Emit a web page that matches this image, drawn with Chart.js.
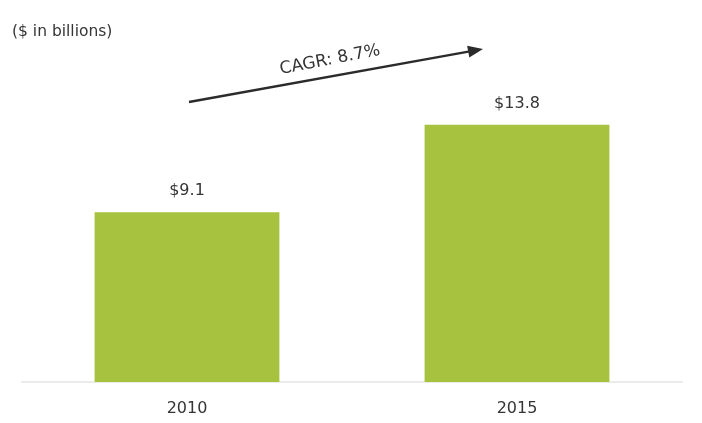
<!DOCTYPE html>
<html>
<head>
<meta charset="utf-8">
<script src="https://cdn.jsdelivr.net/npm/chart.js@4"></script>
<style>
html,body{margin:0;padding:0;background:#fff;}
#wrap{width:702px;height:423px;position:relative;}
</style>
</head>
<body>
<div id="wrap"><canvas id="c" width="702" height="423"></canvas></div>
<script>
const categories = ["2010", "2015"];
const values = [9.1, 13.8];
const valueLabels = ["$9.1", "$13.8"];
const unitNote = "($ in billions)";
const cagrText = "CAGR: 8.7%";

const FONT = "'DejaVu Sans', sans-serif";
const TEXT = "#353535";

const overlay = {
  id: "overlay",
  afterDatasetsDraw(chart) {
    const ctx = chart.ctx;
    const meta = chart.getDatasetMeta(0);
    ctx.save();
    // value labels
    ctx.fillStyle = TEXT;
    ctx.font = "16px " + FONT;
    ctx.textAlign = "center";
    ctx.textBaseline = "middle";
    meta.data.forEach((bar, i) => {
      ctx.fillText(valueLabels[i], bar.x, bar.y - 21);
    });
    // unit note
    ctx.textAlign = "left";
    ctx.font = "15.5px " + FONT;
    ctx.fillText(unitNote, 12, 32);
    // CAGR arrow
    const x0 = 189, y0 = 102, x1 = 483, y1 = 49;
    const ang = Math.atan2(y1 - y0, x1 - x0);
    ctx.strokeStyle = "#2b2b2b";
    ctx.fillStyle = "#2b2b2b";
    ctx.lineWidth = 2.5;
    ctx.beginPath();
    ctx.moveTo(x0, y0);
    ctx.lineTo(x1 - 12 * Math.cos(ang), y1 - 12 * Math.sin(ang));
    ctx.stroke();
    ctx.beginPath();
    ctx.moveTo(x1, y1);
    ctx.lineTo(x1 - 15 * Math.cos(ang) + 6 * Math.sin(ang), y1 - 15 * Math.sin(ang) - 6 * Math.cos(ang));
    ctx.lineTo(x1 - 15 * Math.cos(ang) - 6 * Math.sin(ang), y1 - 15 * Math.sin(ang) + 6 * Math.cos(ang));
    ctx.closePath();
    ctx.fill();
    ctx.translate(330, 60);
    ctx.rotate(-11 * Math.PI / 180);
    ctx.fillStyle = TEXT;
    ctx.font = "17px " + FONT;
    ctx.textAlign = "center";
    ctx.textBaseline = "middle";
    ctx.fillText(cagrText, 0, 0);
    ctx.restore();
  }
};

new Chart(document.getElementById("c"), {
  type: "bar",
  data: {
    labels: categories,
    datasets: [{
      data: values,
      backgroundColor: "#a7c23f",
      borderWidth: 0,
      barPercentage: 0.56,
      categoryPercentage: 1.0
    }]
  },
  options: {
    responsive: false,
    animation: false,
    devicePixelRatio: 1,
    layout: { padding: { left: 22, right: 20, top: 9, bottom: 0 } },
    plugins: { legend: { display: false }, tooltip: { enabled: false } },
    scales: {
      x: {
        grid: { display: false, drawTicks: false },
        border: { display: true, color: "#ebebeb", width: 2 },
        ticks: { color: TEXT, font: { family: FONT, size: 16 }, padding: 17 },
        afterFit(scale) { scale.height = 41; }
      },
      y: {
        display: false,
        min: 0,
        max: 20
      }
    }
  },
  plugins: [overlay]
});
</script>
</body>
</html>
